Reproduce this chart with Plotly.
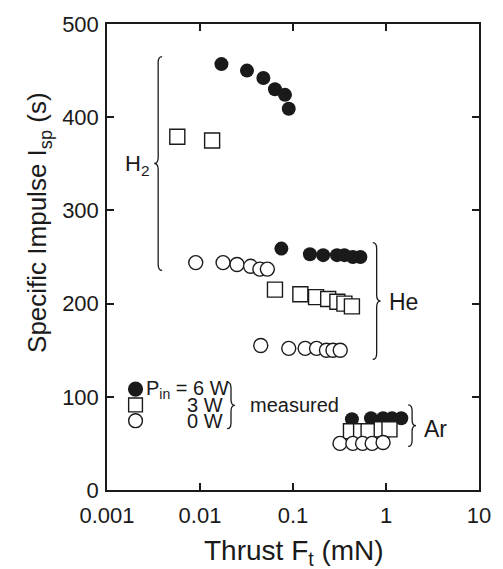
import plotly.graph_objects as go

# ---- data (thrust in mN, specific impulse in s) ----
h2_6w_x = [0.017, 0.032, 0.048, 0.064, 0.082, 0.090]
h2_6w_y = [457, 450, 442, 430, 424, 409]
h2_3w_x = [0.0057, 0.0135]
h2_3w_y = [379, 375]
h2_0w_x = [0.0090, 0.0177, 0.025, 0.035, 0.044, 0.053]
h2_0w_y = [244, 244, 242, 240, 237, 237]

he_6w_x = [0.075, 0.152, 0.211, 0.297, 0.357, 0.44, 0.53]
he_6w_y = [259, 253, 252, 252, 252, 250, 250]
he_3w_x = [0.064, 0.12, 0.177, 0.239, 0.30, 0.357, 0.43]
he_3w_y = [215, 210, 207, 205, 202, 200, 197]
he_0w_x = [0.045, 0.090, 0.135, 0.179, 0.229, 0.269, 0.322]
he_0w_y = [155, 152, 152, 152, 150, 150, 150]

ar_6w_x = [0.43, 0.69, 0.93, 1.16, 1.46]
ar_6w_y = [76, 77, 77, 77, 77]
ar_3w_x = [0.42, 0.54, 0.65, 0.90, 1.09]
ar_3w_y = [63, 63, 63, 65, 65]
ar_0w_x = [0.32, 0.44, 0.56, 0.71, 0.93]
ar_0w_y = [50, 50, 50, 50, 51]

x_tickvals = [0.001, 0.01, 0.1, 1, 10]
x_ticktext = ["0.001", "0.01", "0.1", "1", "10"]
y_tickvals = [0, 100, 200, 300, 400, 500]

W, H = 503, 569
L, R, T, B = 107, 18, 19, 79
PW, PH = W - L - R, H - T - B
FONT = "Arial, Liberation Sans, sans-serif"
INK = "#1a1a1a"

def px(x):
    return (x - L) / PW

def py(y):
    return (H - B - y) / PH

fig = go.Figure()

filled = dict(symbol="circle", size=14, color=INK, line=dict(width=0))
square_fill = dict(symbol="square", size=15, color="white", line=dict(width=1.4, color=INK))
opencirc = dict(symbol="circle", size=14, color="white", line=dict(width=1.4, color=INK))

for xs, ys in [(h2_6w_x, h2_6w_y), (he_6w_x, he_6w_y), (ar_6w_x, ar_6w_y)]:
    fig.add_trace(go.Scatter(x=xs, y=ys, mode="markers", marker=filled, showlegend=False))
for xs, ys in [(h2_3w_x, h2_3w_y), (he_3w_x, he_3w_y), (ar_3w_x, ar_3w_y)]:
    fig.add_trace(go.Scatter(x=xs, y=ys, mode="markers", marker=square_fill, showlegend=False))
for xs, ys in [(h2_0w_x, h2_0w_y), (he_0w_x, he_0w_y), (ar_0w_x, ar_0w_y)]:
    fig.add_trace(go.Scatter(x=xs, y=ys, mode="markers", marker=opencirc, showlegend=False))

shapes = []

def brace(x0, y0, y1, w, right=True):
    """curly brace in pixel coords: x0 = attachment side, w = depth"""
    s = 1 if right else -1
    xm = x0 + s * w / 2
    xt = x0 + s * w
    ym = (y0 + y1) / 2
    r = min(6, (y1 - y0) / 6)
    pts = (f"M {px(x0)},{py(y0)} Q {px(xm)},{py(y0)} {px(xm)},{py(y0 + r)} "
           f"L {px(xm)},{py(ym - r)} Q {px(xm)},{py(ym)} {px(xt)},{py(ym)} "
           f"Q {px(xm)},{py(ym)} {px(xm)},{py(ym + r)} "
           f"L {px(xm)},{py(y1 - r)} Q {px(xm)},{py(y1)} {px(x0)},{py(y1)}")
    shapes.append(dict(type="path", xref="paper", yref="paper", path=pts,
                       line=dict(color=INK, width=1.3)))

brace(163, 52, 268, 8, right=False)   # H2
brace(377, 240, 358, 8)               # He
brace(413, 404, 446, 8)               # Ar
brace(229, 381, 428, 8)               # legend

# legend symbols
def circ(cx, cy, d, fill):
    shapes.append(dict(type="circle", xref="paper", yref="paper",
                       x0=px(cx - d / 2), x1=px(cx + d / 2), y0=py(cy + d / 2), y1=py(cy - d / 2),
                       fillcolor=fill, line=dict(color=INK, width=1.4)))

circ(136, 388, 14, INK)
shapes.append(dict(type="rect", xref="paper", yref="paper",
                   x0=px(129), x1=px(143), y0=py(411), y1=py(397),
                   fillcolor="white", line=dict(color=INK, width=1.4)))
circ(136, 420, 14, "white")

ann = []

def text(t, x, y, anchor="left", size=22, angle=0):
    ann.append(dict(text=t, xref="paper", yref="paper", x=px(x), y=py(y),
                    xanchor=anchor, yanchor="middle", showarrow=False, textangle=angle,
                    font=dict(family=FONT, size=size, color=INK)))

text("H<sub>2</sub>", 152, 162, "right")
text("He", 392, 300, size=23)
text("Ar", 427, 428, size=23)
text("P<sub>in</sub> = 6 W", 145, 388, size=20)
text("3 W", 227, 404, "right", size=20)
text("0 W", 227, 420, "right", size=20)
text("measured", 250, 404, size=20)
# axis titles
text("Thrust F<sub>t</sub> (mN)", 297, 553, "center", size=28)
text("Specific Impulse I<sub>sp</sub> (s)", 38, 220, "center", size=26, angle=-90)

axis_common = dict(showline=True, linecolor=INK, linewidth=1.5, mirror="ticks",
                   ticks="inside", ticklen=7, tickwidth=1.5, tickcolor=INK,
                   showgrid=False, zeroline=False,
                   tickfont=dict(family=FONT, size=22, color=INK))

fig.update_xaxes(type="log", range=[-3, 1], tickvals=x_tickvals, ticktext=x_ticktext,
                 ticklabelstandoff=5, **axis_common)
fig.update_yaxes(range=[0, 500], tickvals=y_tickvals, ticklabelstandoff=2, **axis_common)

fig.update_layout(width=W, height=H, margin=dict(l=L, r=R, t=T, b=B, pad=0),
                  plot_bgcolor="white", paper_bgcolor="white",
                  shapes=shapes, annotations=ann, showlegend=False)

fig.write_html("out.html")
